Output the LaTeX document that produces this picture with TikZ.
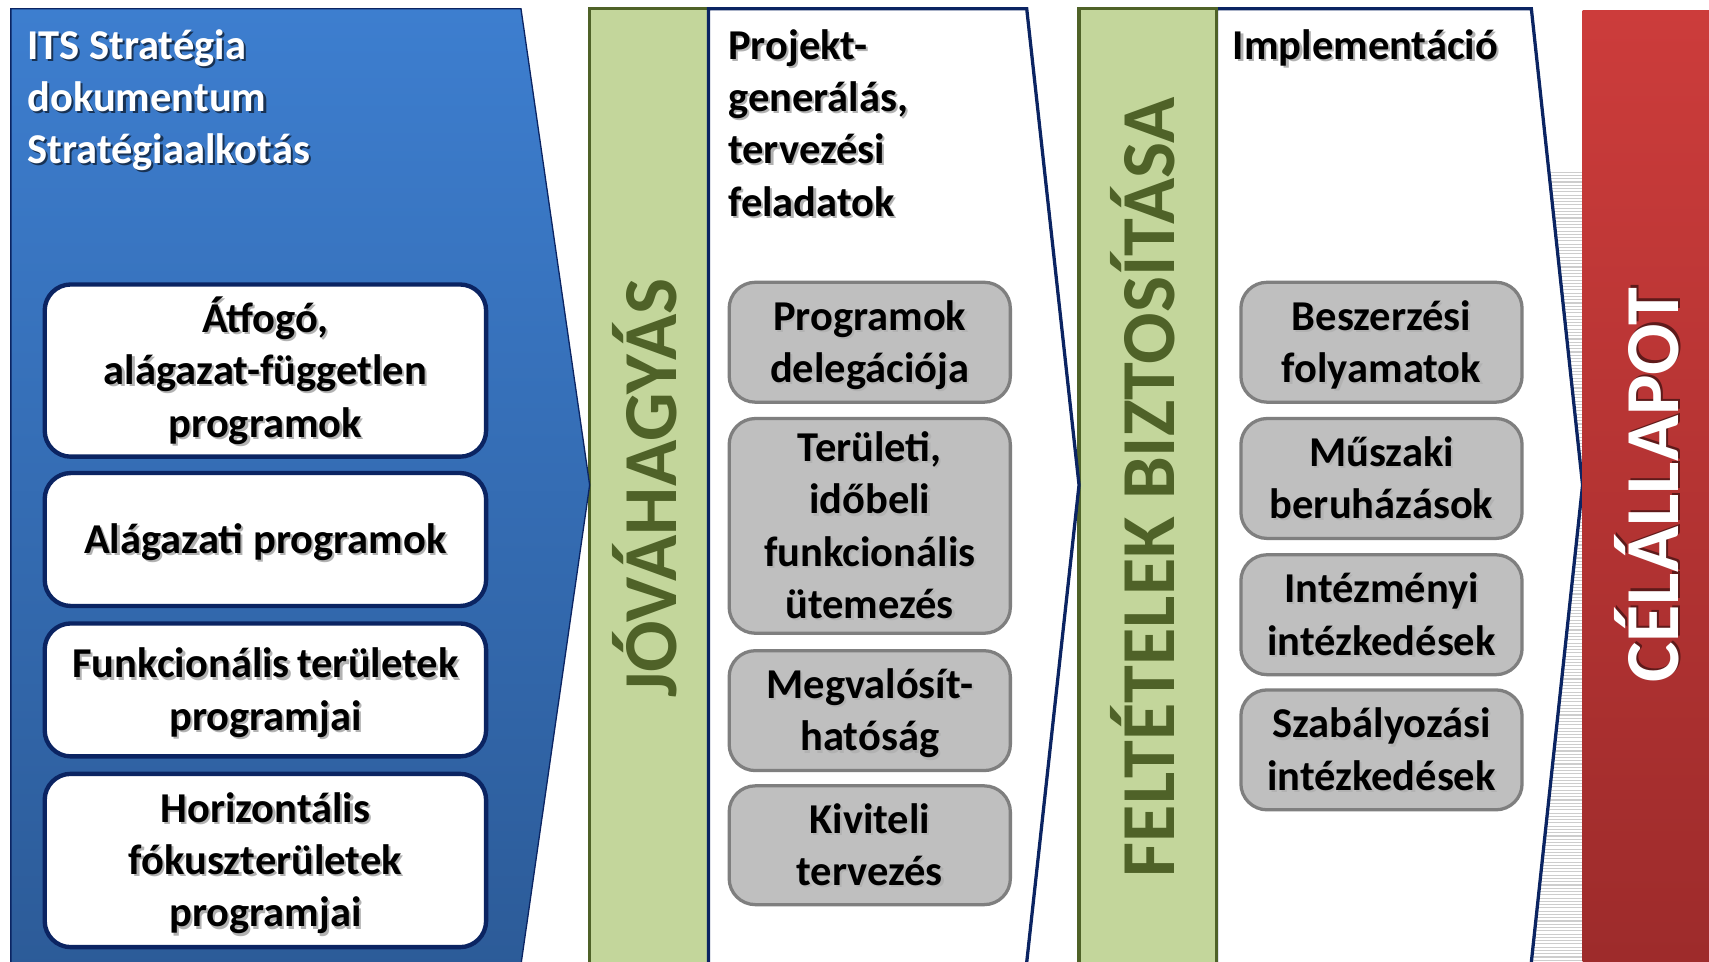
\documentclass[tikz,border=0pt]{standalone}
\usepackage{fontspec}
\setmainfont{Carlito}
\definecolor{bluetop}{HTML}{3D7ECF}
\definecolor{bluebot}{HTML}{2C5B98}
\definecolor{navy}{HTML}{0B2462}
\definecolor{olive}{HTML}{4F6228}
\definecolor{lgreen}{HTML}{C3D69B}
\definecolor{redtop}{HTML}{CC3C3B}
\definecolor{redbot}{HTML}{9D2B2B}
\definecolor{boxgray}{HTML}{BFBFBF}
\definecolor{boxedge}{HTML}{7F7F7F}
\definecolor{stripe}{HTML}{CDCDCD}
\newcommand{\boxfont}{\fontsize{39}{48}\selectfont\bfseries}
\newcommand{\vfont}{\fontsize{70}{70}\selectfont\bfseries}
\newcommand{\bsh}[1]{\leavevmode\rlap{\hspace*{2pt}\raisebox{-2pt}{\textcolor{black!30}{#1}}}#1}
\newcommand{\wsh}[1]{\leavevmode\rlap{\hspace*{2pt}\raisebox{-2pt}{\textcolor{black!45!bluebot}{#1}}}#1}
\newcommand{\rsh}[1]{\leavevmode\rlap{\hspace*{2pt}\raisebox{-2pt}{\textcolor{black!40!redbot}{#1}}}#1}
\newcommand{\tst}{\rule{0pt}{38pt}}
\newcommand{\bst}{\rule[-12pt]{0pt}{12pt}}
\tikzset{
  bluebox/.style={draw=navy, line width=4, fill=white, rounded corners=24,
    minimum width=405, align=center, font=\boxfont, inner sep=0},
  graybox/.style={draw=boxedge, line width=3, fill=boxgray, rounded corners=24,
    minimum width=258, align=center, font=\boxfont, inner sep=0},
  vtext/.style={rotate=90, anchor=base, font=\vfont, inner sep=0},
  ttl/.style={anchor=north west, align=left, inner sep=0, font=\boxfont},
  chev/.style={fill=white, draw=navy, line width=3},
  gbar/.style={fill=lgreen, draw=olive, line width=3}
}
\begin{document}
\begin{tikzpicture}[x=1pt,y=-1pt]
\useasboundingbox (0,0) rectangle (1568,882);
% stripes (shadow of the red bar)
\foreach \yy in {158,161,...,882} {
  \draw[stripe, line width=1] (1400,\yy) -- (1452,\yy);
}
% second chevron and bar
\draw[chev] (1116,8) -- (1405,8) -- (1452,445) -- (1404,892) -- (1116,892) -- cycle;
\draw[gbar] (990,8) rectangle (1116,892);
% first bar and chevron
\draw[gbar] (541,8) rectangle (650,892);
\draw[chev] (650,8) -- (942,8) -- (990,445) -- (941,892) -- (650,892) -- cycle;
% blue chevron
\draw[top color=bluetop, bottom color=bluebot, draw=navy, line width=1.2]
  (10,8) -- (478,8) -- (541,445) -- (477,892) -- (10,892) -- cycle;
% red target bar
\shade[top color=redtop, bottom color=redbot] (1452,10) rectangle (1570,892);

% titles
\node[ttl, text=white] (its) at (25,24) {\rule{0pt}{30pt}\wsh{ITS Stratégia}\\\wsh{dokumentum}\\\wsh{Stratégiaalkotás}};
\node[ttl, text=black] (proj) at (668,24) {\rule{0pt}{30pt}\bsh{Projekt-}\\\bsh{generálás,}\\\bsh{tervezési}\\\bsh{feladatok}};
\node[ttl, text=black] (impl) at (1131,24) {\rule{0pt}{30pt}\bsh{Implementáció}};

% blue column boxes
\node[bluebox, minimum height=158] (b1) at (243.5,340) {\tst\bsh{Átfogó,}\\\bsh{alágazat-független}\\\bsh{programok}\bst};
\node[bluebox, minimum height=122] (b2) at (243.5,495) {\tst\bsh{Alágazati programok}\bst};
\node[bluebox, minimum height=122] (b3) at (243.5,633) {\tst\bsh{Funkcionális\hspace{-2pt} területek}\\\bsh{programjai}\bst};
\node[bluebox, minimum height=159] (b4) at (243.5,789.5) {\tst\bsh{Horizontális}\\\bsh{fókuszterületek}\\\bsh{programjai}\bst};

% planning boxes
\node[graybox, minimum height=110] (p1) at (798,314) {\tst\bsh{Programok}\\\bsh{delegációja}\bst};
\node[graybox, minimum height=197] (p2) at (798,482.5) {\tst\bsh{Területi,}\\\bsh{időbeli}\\\bsh{funkcionális}\\\bsh{ütemezés}\bst};
\node[graybox, minimum height=110] (p3) at (798,652) {\tst\bsh{Megvalósít-}\\\bsh{hatóság}\bst};
\node[graybox, minimum height=109] (p4) at (798,775.5) {\tst\bsh{Kiviteli}\\\bsh{tervezés}\bst};

% implementation boxes
\node[graybox, minimum height=110] (i1) at (1267.5,314) {\tst\bsh{Beszerzési}\\\bsh{folyamatok}\bst};
\node[graybox, minimum height=110] (i2) at (1267.5,439) {\tst\bsh{Műszaki}\\\bsh{beruházások}\bst};
\node[graybox, minimum height=110] (i3) at (1267.5,564) {\tst\bsh{Intézményi}\\\bsh{intézkedések}\bst};
\node[graybox, minimum height=110] (i4) at (1267.5,688) {\tst\bsh{Szabályozási}\\\bsh{intézkedések}\bst};

% vertical labels
\node[vtext, text=olive] (jova) at (621,448) {JÓVÁHAGYÁS};
\node[vtext, text=olive] (felt) at (1078,447) {FELTÉTELEK BIZTOSÍTÁSA};
\node[vtext, text=white] (cel) at (1540,445) {\rsh{CÉLÁLLAPOT}};
\end{tikzpicture}
\end{document}
